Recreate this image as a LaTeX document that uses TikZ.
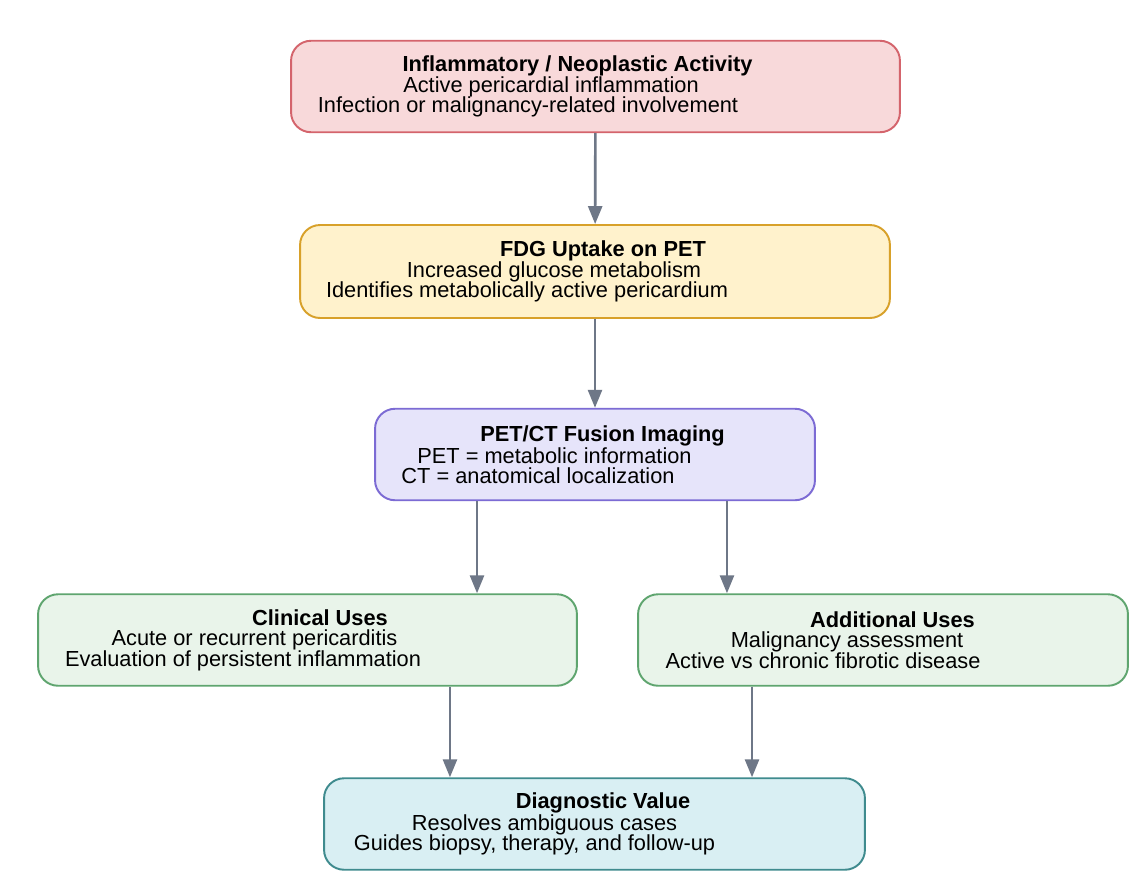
\documentclass[tikz,border=0pt]{standalone}
\usepackage{fontspec}
\setmainfont{Liberation Sans}
\usetikzlibrary{arrows.meta}

\definecolor{redfill}{HTML}{F8D9DA}
\definecolor{redline}{HTML}{D4646C}
\definecolor{yelfill}{HTML}{FFF2CC}
\definecolor{yelline}{HTML}{D8A12A}
\definecolor{purfill}{HTML}{E6E4FA}
\definecolor{purline}{HTML}{7C6BD4}
\definecolor{grnfill}{HTML}{E9F4EA}
\definecolor{grnline}{HTML}{5FA56F}
\definecolor{tealfill}{HTML}{D9EFF3}
\definecolor{tealline}{HTML}{3F8B8E}
\definecolor{arrowgray}{HTML}{6E7787}

% one text line, its centre moved sideways by #1
\newcommand{\offline}[2]{\makebox[0pt]{\hspace*{#1}\hspace*{#1}#2}}

\begin{document}
\begin{tikzpicture}[
  x=0.02cm, y=-0.02cm,
  >={Triangle[length=0.36cm, width=0.28cm]},
  box/.style={rectangle, rounded corners=0.4cm, line width=1.1pt,
              minimum height=1.83cm, inner sep=0pt, align=center,
              font=\fontsize{12.4}{11.6}\selectfont},
  flow/.style={->, draw=arrowgray, fill=arrowgray, line width=1.5pt}
]
\useasboundingbox[fill=white] (0,0) rectangle (1144,887);

\node[box, draw=redline, fill=redfill, minimum width=12.18cm] (activity) at (595.5,86.5)
  {\offline{-0.36cm}{\textbf{Inflammatory / Neoplastic Activity}}\\
   \offline{-0.89cm}{Active pericardial inflammation}\\
   \offline{-1.35cm}{Infection or malignancy-related involvement}};
\node[box, draw=yelline, fill=yelfill, minimum width=11.8cm, minimum height=1.86cm] (fdg) at (595,271.5)
  {\offline{0.16cm}{\textbf{FDG Uptake on PET}}\\
   \offline{-0.82cm}{Increased glucose metabolism}\\
   \offline{-1.36cm}{Identifies metabolically active pericardium}};
\node[box, draw=purline, fill=purfill, minimum width=8.8cm] (fusion) at (595,454.5)
  {\offline{0.15cm}{\textbf{PET/CT Fusion Imaging}}\\
   \offline{-0.81cm}{PET = metabolic information}\\
   \offline{-1.14cm}{CT = anatomical localization}};
\node[box, draw=grnline, fill=grnfill, minimum width=10.78cm] (clinical) at (307.5,640)
  {\offline{0.25cm}{\textbf{Clinical Uses}}\\
   \offline{-1.06cm}{Acute or recurrent pericarditis}\\
   \offline{-1.29cm}{Evaluation of persistent inflammation}};
\node[box, draw=grnline, fill=grnfill, minimum width=9.8cm] (additional) at (883,640)
  {\offline{0.19cm}{\textbf{Additional Uses}}\\
   \offline{-0.72cm}{Malignancy assessment}\\
   \offline{-1.2cm}{Active vs chronic fibrotic disease}};
\node[box, draw=tealline, fill=tealfill, minimum width=10.82cm] (diagnostic) at (594.5,824)
  {\offline{0.17cm}{\textbf{Diagnostic Value}}\\
   \offline{-1.0cm}{Resolves ambiguous cases}\\
   \offline{-1.2cm}{Guides biopsy, therapy, and follow-up}};

\draw[flow] (activity) -- (fdg);
\draw[flow] (fdg) -- (fusion);
\draw[flow] ([xshift=-2.36cm]fusion.south) -- ([xshift=-2.36cm]fusion.south |- clinical.north);
\draw[flow] ([xshift=2.64cm]fusion.south) -- ([xshift=2.64cm]fusion.south |- additional.north);
\draw[flow] ([xshift=2.85cm]clinical.south) -- ([xshift=2.85cm]clinical.south |- diagnostic.north);
\draw[flow] ([xshift=-2.62cm]additional.south) -- ([xshift=-2.62cm]additional.south |- diagnostic.north);

\end{tikzpicture}
\end{document}
